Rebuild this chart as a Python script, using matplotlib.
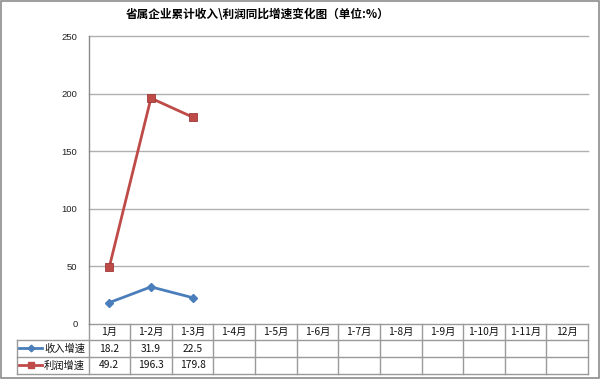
import matplotlib
matplotlib.use("Agg")
import matplotlib.pyplot as plt
from matplotlib.transforms import blended_transform_factory
from matplotlib.lines import Line2D
from matplotlib.patches import Rectangle

plt.rcParams['font.family'] = ['Noto Sans CJK SC', 'DejaVu Sans']

# ---- data ----
months = ["1月", "1-2月", "1-3月", "1-4月", "1-5月", "1-6月",
          "1-7月", "1-8月", "1-9月", "1-10月", "1-11月", "12月"]
revenue_growth = [18.2, 31.9, 22.5]
profit_growth = [49.2, 196.3, 179.8]
series_names = ["收入增速", "利润增速"]
yticks = [0, 50, 100, 150, 200, 250]
title = "省属企业累计收入\\利润同比增速变化图（单位:%）"

blue = "#4a7ebb"
red = "#be4b48"
grid_c = "#b0b0b0"
W, H = 600, 380

fig = plt.figure(figsize=(W / 100, H / 100), dpi=100)

# full-figure overlay in pixel coordinates for the frame and table
ov = fig.add_axes([0, 0, 1, 1])
ov.set_xlim(0, W)
ov.set_ylim(H, 0)
ov.axis("off")

# plot area
x0, x1 = 88.5, 588
y_top, y_bot = 36.5, 323.5
ax = fig.add_axes([x0 / W, (H - y_bot) / H, (x1 - x0) / W, (y_bot - y_top) / H])
ax.set_xlim(-0.5, len(months) - 0.5)
ax.set_ylim(0, 250)
ax.set_yticks(yticks)
ax.set_yticklabels([str(v) for v in yticks], fontsize=6.8,
                   family=['Liberation Sans'], color="#222222")
ax.set_xticks([])
for s in ["top", "right", "bottom"]:
    ax.spines[s].set_visible(False)
ax.spines["left"].set_color("#8a8a8a")
ax.spines["left"].set_linewidth(1.0)
ax.tick_params(axis="y", length=0, pad=8)
for v in yticks[1:]:
    ax.axhline(v, color=grid_c, lw=1.0, zorder=1, clip_on=False)
ax.set_facecolor("none")

xs_r = list(range(len(revenue_growth)))
xs_p = list(range(len(profit_growth)))
ax.plot(xs_r, revenue_growth, color=blue, lw=2.0, marker="D", ms=4.2,
        mfc=blue, mec=blue, zorder=3, clip_on=False)
ax.plot(xs_p, profit_growth, color=red, lw=2.0, marker="s", ms=5.2,
        mfc=red, mec="#9c3a38", mew=0.6, zorder=3, clip_on=False)

# title
ov.text(258, 15, title, ha="center", va="center", fontsize=8.4,
        fontweight="bold", color="#000000")

# outer frame
ov.add_patch(Rectangle((0.6, 0.6), W - 1.6, 377, fill=False,
                       ec="#8c8c8c", lw=1.2))

# data table beneath the axis, columns aligned to the category scale
tr = blended_transform_factory(ax.transData, ov.transData)
row_y = [323.5, 339.5, 356.5, 373.5]
label_x0 = 17
n = len(months)
tc = "#9a9a9a"

# horizontal rules
ov.plot([x0, x1], [row_y[0]] * 2, color=tc, lw=1.0)
for y in row_y[1:]:
    ov.plot([label_x0, x1], [y, y], color=tc, lw=1.0)
# vertical rules
ov.plot([label_x0, label_x0], [row_y[1], row_y[3]], color=tc, lw=1.0)
for i in range(n + 1):
    ax_line = Line2D([i - 0.5, i - 0.5], [row_y[0], row_y[3]],
                     color=tc, lw=1.0, transform=tr)
    ov.add_line(ax_line)

fs = 7.4
for i, m in enumerate(months):
    ov.text(i, (row_y[0] + row_y[1]) / 2 + 0.5, m, transform=tr,
            ha="center", va="center", fontsize=fs, color="#111111")
for vals, yi in ((revenue_growth, 1), (profit_growth, 2)):
    yc = (row_y[yi] + row_y[yi + 1]) / 2 + 0.5
    for i, v in enumerate(vals):
        ov.text(i, yc, f"{v:.1f}", transform=tr, ha="center", va="center",
                fontsize=fs, color="#111111")

# row headers with legend keys
for name, col, mk, ms, yi in ((series_names[0], blue, "D", 3.4, 1),
                              (series_names[1], red, "s", 4.4, 2)):
    yc = (row_y[yi] + row_y[yi + 1]) / 2
    ov.plot([19, 42], [yc, yc], color=col, lw=2.0)
    ov.plot([30.5], [yc], marker=mk, ms=ms, color=col, mec=col)
    ov.text(44, yc + 0.5, name, ha="left", va="center", fontsize=fs,
            color="#111111")

fig.savefig("out.png", dpi=100)
